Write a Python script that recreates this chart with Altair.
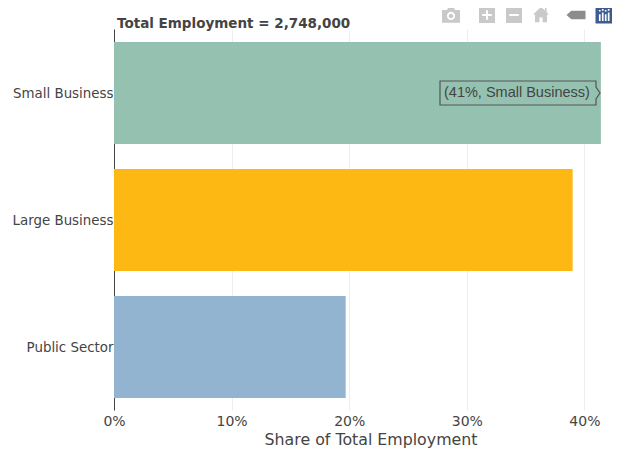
import altair as alt
import pandas as pd

categories = ["Small Business", "Large Business", "Public Sector"]
shares = [41.4, 39.0, 19.7]
colours = ["#95c1b0", "#fdb813", "#93b4d1"]
x_ticks = [0, 10, 20, 30, 40]
heading = "Total Employment = 2,748,000"
hover_label = "(41%, Small Business)"
x_title = "Share of Total Employment"

TEXT = "#444444"
FONT = "DejaVu Sans"
GREY = "#c9c9c9"
W, H = 487, 381

df = pd.DataFrame({"category": categories, "share": shares})

x_scale = alt.Scale(domain=[0, 41.41], nice=False, zero=True)
y_scale = alt.Scale(domain=categories, paddingInner=0.2, paddingOuter=0.1)

bars = alt.Chart(df).mark_bar(size=102, orient="horizontal", yOffset=0.5).encode(
    x=alt.X("share:Q", scale=x_scale,
            axis=alt.Axis(values=x_ticks, labelExpr="datum.value + '%'", title=x_title,
                          grid=True, gridColor="#eeeeee", gridWidth=1, domain=False,
                          ticks=False, labelFont=FONT, labelFontSize=14, labelColor=TEXT,
                          labelPadding=4, labelFlush=False, labelOverlap=False,
                          titleFont=FONT, titleFontSize=15.8, titleX=256.5,
                          titleFontWeight="normal", titleColor=TEXT, titlePadding=4)),
    y=alt.Y("category:N", scale=y_scale, sort=categories,
            axis=alt.Axis(title=None, grid=False, ticks=False, domain=True,
                          domainColor=TEXT, domainWidth=1, labelFont=FONT, labelFontSize=13.4,
                          labelColor=TEXT, labelPadding=1, labelOffset=1)),
    color=alt.Color("category:N", scale=alt.Scale(domain=categories, range=colours), legend=None),
)

def one(**fields):
    return alt.Chart(pd.DataFrame([fields]))

title_text = one(t=heading).mark_text(
    align="left", baseline="alphabetic", font=FONT, fontSize=13.5, fontWeight="bold", color=TEXT
).encode(text="t:N", x=alt.value(3), y=alt.value(-1))

def icon(path, px, py, span, colour):
    return one(i=1).mark_point(shape=path, filled=True, opacity=1, color=colour, strokeWidth=0).encode(
        x=alt.value(px), y=alt.value(py), size=alt.value(span ** 2))

# hover label box with its pointer
box = one(i=1).mark_point(
    shape="M-1,-0.15 L0.95,-0.15 L0.95,-0.075 L1,0 L0.95,0.075 L0.95,0.15 L-1,0.15 Z",
    filled=False, opacity=1, stroke="#555555", strokeWidth=1.2, fill="#95c1b0",
).encode(x=alt.value(406), y=alt.value(64), size=alt.value(160 ** 2))
box_text = one(t=hover_label).mark_text(
    align="left", baseline="middle", font="Liberation Sans", fontSize=14.5, color=TEXT
).encode(text="t:N", x=alt.value(330), y=alt.value(64))

SQUARE = "M-1,-1 L1,-1 L1,1 L-1,1 Z"
icons = [
    icon("M-1,-0.55 L-0.45,-0.55 L-0.3,-0.85 L0.3,-0.85 L0.45,-0.55 L1,-0.55 L1,0.85 L-1,0.85 Z", 337, -14, 18, GREY),
    icon("M-0.45,0.1 A0.45,0.45 0 1 0 0.45,0.1 A0.45,0.45 0 1 0 -0.45,0.1 Z", 337, -14, 18, "#ffffff"),
    icon("M-0.25,0.1 A0.25,0.25 0 1 0 0.25,0.1 A0.25,0.25 0 1 0 -0.25,0.1 Z", 337, -14, 18, GREY),
    icon(SQUARE, 373, -14, 16, GREY),
    icon("M-0.12,-0.6 L0.12,-0.6 L0.12,-0.12 L0.6,-0.12 L0.6,0.12 L0.12,0.12 L0.12,0.6 L-0.12,0.6 L-0.12,0.12 L-0.6,0.12 L-0.6,-0.12 L-0.12,-0.12 Z", 373, -14, 16, "#ffffff"),
    icon(SQUARE, 400, -14, 16, GREY),
    icon("M-0.6,-0.12 L0.6,-0.12 L0.6,0.12 L-0.6,0.12 Z", 400, -14, 16, "#ffffff"),
    icon("M0,-1 L0.5,-0.55 L0.5,-0.9 L0.7,-0.9 L0.7,-0.35 L1,-0.05 L0.75,-0.05 L0.75,0.9 L0.2,0.9 L0.2,0.3 L-0.2,0.3 L-0.2,0.9 L-0.75,0.9 L-0.75,-0.05 L-1,-0.05 Z", 427, -14, 16, GREY),
    icon("M-1,0 L-0.5,-0.45 L1,-0.45 L1,0.45 L-0.5,0.45 Z", 462, -14, 19, "#8c8c8c"),
    icon(SQUARE, 490, -14, 17, "#3b5b92"),
    icon("M-0.6,-0.1 L-0.4,-0.1 L-0.4,0.7 L-0.6,0.7 Z M-0.25,-0.3 L-0.05,-0.3 L-0.05,0.7 L-0.25,0.7 Z M0.1,-0.1 L0.3,-0.1 L0.3,0.7 L0.1,0.7 Z M0.45,-0.3 L0.65,-0.3 L0.65,0.7 L0.45,0.7 Z M-0.6,-0.6 L-0.4,-0.6 L-0.4,-0.4 L-0.6,-0.4 Z M-0.25,-0.7 L-0.05,-0.7 L-0.05,-0.5 L-0.25,-0.5 Z M0.1,-0.6 L0.3,-0.6 L0.3,-0.4 L0.1,-0.4 Z M0.45,-0.7 L0.65,-0.7 L0.65,-0.5 L0.45,-0.5 Z", 490, -14, 17, "#ffffff"),
]

chart = alt.layer(bars, title_text, box, box_text, *icons).resolve_scale(color="independent").properties(
    width=W, height=H,
    autosize=alt.AutoSizeParams(type="none"),
    padding={"left": 106, "top": 21, "right": 11, "bottom": 38},
    background="#ffffff",
).configure_view(stroke=None)

chart.save("out.html", embed_options={"renderer": "svg", "actions": False})
